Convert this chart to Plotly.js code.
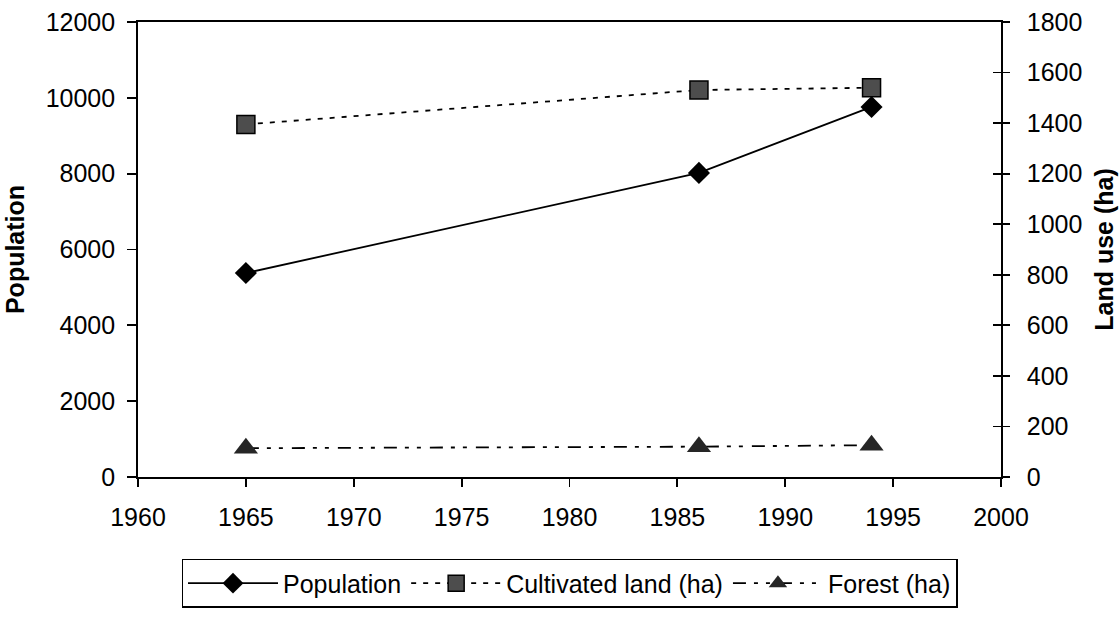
<!DOCTYPE html>
<html>
<head>
<meta charset="utf-8">
<script src="https://cdn.plot.ly/plotly-3.0.1.min.js"></script>
<style>html,body{margin:0;padding:0;background:#fff;}#chart{width:1120px;height:620px;}</style>
</head>
<body>
<div id="chart"></div>
<script>
const years = [1965, 1986, 1994];
const population = [5380, 8020, 9760];
const cultivatedLand = [1395, 1531, 1540];
const forest = [114, 120, 126];

const seriesNames = ['Population', 'Cultivated land (ha)', 'Forest (ha)'];
const leftTitle = 'Population';
const rightTitle = 'Land use (ha)';

const FONT = 'Liberation Sans, Arial, sans-serif';
const FS = 25;

const traces = [
  {
    x: years, y: population, name: seriesNames[0], type: 'scatter', mode: 'lines+markers',
    yaxis: 'y',
    line: {color: '#000', width: 1.8},
    marker: {symbol: 'diamond', size: 17, color: '#000', line: {color: '#000', width: 0}}
  },
  {
    x: years, y: cultivatedLand, name: seriesNames[1], type: 'scatter', mode: 'lines+markers',
    yaxis: 'y2',
    line: {color: '#000', width: 1.8, dash: '5px,7px'},
    marker: {symbol: 'square', size: 18, color: '#4d4d4d', line: {color: '#000', width: 1.5}}
  },
  {
    x: years, y: forest, name: seriesNames[2], type: 'scatter', mode: 'lines+markers',
    yaxis: 'y2',
    line: {color: '#000', width: 1.8, dash: '13px,8px,4px,8px,4px,9px'},
    marker: {symbol: 'triangle-up', size: 21, color: '#262626', line: {color: '#262626', width: 0}}
  }
];

const layout = {
  width: 1120, height: 620,
  paper_bgcolor: '#fff', plot_bgcolor: '#fff',
  margin: {l: 138, r: 119, t: 22, b: 127},
  font: {family: FONT, size: FS, color: '#000'},
  showlegend: true,
  legend: {
    orientation: 'h', x: 0.5, xanchor: 'center', y: -0.18, yanchor: 'top',
    bordercolor: '#000', borderwidth: 1.5, bgcolor: '#fff',
    font: {family: FONT, size: FS, color: '#000'},
    itemwidth: 90, tracegroupgap: 0
  },
  xaxis: {
    range: [1960, 2000], dtick: 5, tick0: 1960,
    showgrid: false, zeroline: false,
    showline: true, linecolor: '#000', linewidth: 1.8, mirror: true,
    ticks: 'outside', ticklen: 8, tickwidth: 1.8, tickcolor: '#000',
    tickfont: {family: FONT, size: FS, color: '#000'},
    ticklabelstandoff: 9
  },
  yaxis: {
    range: [0, 12000], dtick: 2000, tick0: 0,
    exponentformat: 'none', tickformat: 'd',
    showgrid: false, zeroline: false,
    showline: true, linecolor: '#000', linewidth: 1.8,
    ticks: 'outside', ticklen: 9, tickwidth: 1.8, tickcolor: '#000',
    tickfont: {family: FONT, size: FS, color: '#000'},
    ticklabelstandoff: 7,
    title: {text: leftTitle, font: {family: FONT, size: FS, color: '#000', weight: 'bold'}, standoff: 14}
  },
  yaxis2: {
    range: [0, 1800], dtick: 200, tick0: 0,
    overlaying: 'y', side: 'right',
    showgrid: false, zeroline: false,
    showline: true, linecolor: '#000', linewidth: 1.8,
    ticks: 'outside', ticklen: 7, tickwidth: 1.8, tickcolor: '#000',
    tickfont: {family: FONT, size: FS, color: '#000'},
    ticklabelstandoff: 12,
    title: {text: rightTitle, font: {family: FONT, size: FS, color: '#000', weight: 'bold'}, standoff: 14}
  },
  yaxis3: {
    range: [0, 1800], dtick: 200, tick0: 0,
    overlaying: 'y', side: 'right',
    showgrid: false, zeroline: false, showline: false,
    ticks: 'inside', ticklen: 8, tickwidth: 1.8, tickcolor: '#000',
    showticklabels: false
  }
};

// invisible trace so the inside (crossing) tick axis on the right is drawn
traces.push({x: years, y: cultivatedLand, yaxis: 'y3', type: 'scatter', mode: 'none', showlegend: false, hoverinfo: 'skip'});

Plotly.newPlot('chart', traces, layout, {displayModeBar: false, staticPlot: true});
</script>
</body>
</html>
